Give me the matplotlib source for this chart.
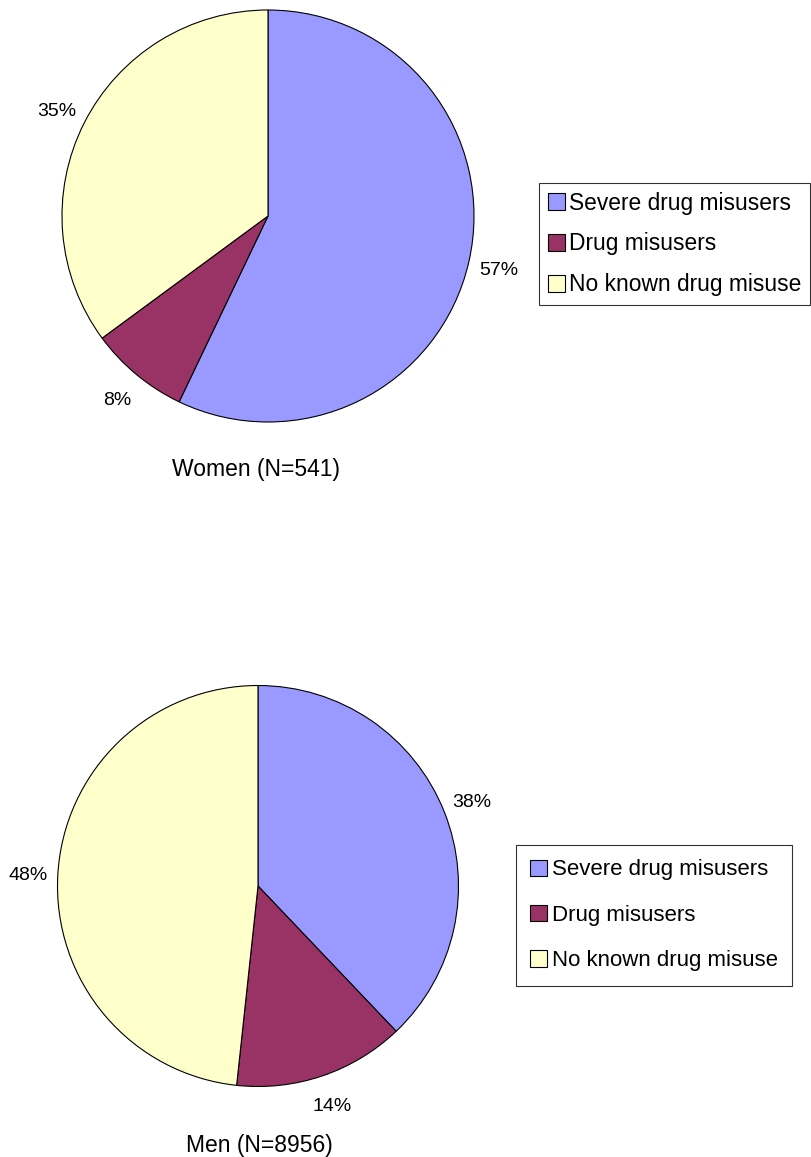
import matplotlib
matplotlib.use("Agg")
import matplotlib.pyplot as plt

plt.rcParams['font.family'] = ['Liberation Sans', 'DejaVu Sans']

categories = ["Severe drug misusers", "Drug misusers", "No known drug misuse"]
colors = ["#9999FF", "#993366", "#FFFFCC"]
women_pct = [57.1, 7.8, 35.1]
men_pct = [37.9, 13.8, 48.3]
women_title = "Women (N=541)"
men_title = "Men (N=8956)"

W, H = 811, 1157
fig = plt.figure(figsize=(W / 100, H / 100), dpi=100)


def pie_axes(cx, cy, r):
    return fig.add_axes([(cx - r) / W, (H - (cy + r)) / H, 2 * r / W, 2 * r / H])


def draw(ax, values, title, title_xy, leg_anchor, labelspacing, borderpad, fs_leg):
    wedges, texts, autotexts = ax.pie(
        values, colors=colors, startangle=90, counterclock=False,
        autopct='%.0f%%', pctdistance=1.15,
        wedgeprops=dict(edgecolor='black', linewidth=0.8),
        textprops=dict(fontsize=14, color='black'))
    for t in autotexts:
        t.set_va('center_baseline')
    for w in wedges:
        w.set_clip_on(False)
    ax.set_xlim(-1, 1)
    ax.set_ylim(-1, 1)
    ax.set_aspect('auto')
    ax.axis('off')
    fig.text(title_xy[0] / W, 1 - title_xy[1] / H, title,
             ha='center', va='center_baseline', fontsize=16.5)
    leg = fig.legend(wedges, categories, loc='upper left', bbox_to_anchor=leg_anchor,
                     frameon=True, fancybox=False, fontsize=fs_leg,
                     handlelength=0.75, handleheight=0.75, handletextpad=0.2,
                     labelspacing=labelspacing, borderpad=borderpad,
                     borderaxespad=0)
    leg.get_frame().set_edgecolor('black')
    leg.get_frame().set_linewidth(0.8)
    return leg


ax1 = pie_axes(268, 216, 206)
draw(ax1, women_pct, women_title, (256, 467), (539 / W, 1 - 183 / H), 0.78, 0.38, 16.4)

ax2 = pie_axes(258, 886, 200.5)
draw(ax2, men_pct, men_title, (259, 1143), (516 / W, 1 - 845 / H), 1.1, 0.65, 16.0)

fig.savefig("out.png", dpi=100)
